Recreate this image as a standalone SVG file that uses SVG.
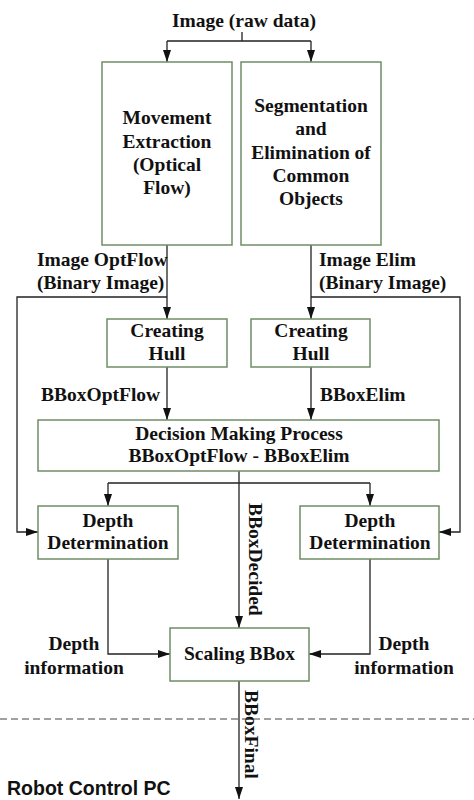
<svg xmlns="http://www.w3.org/2000/svg" width="474" height="800" viewBox="0 0 474 800">
<style>
.box{fill:#fff;stroke:#6f8d66;stroke-width:1.5}
.t{font-family:"Liberation Serif","Times New Roman",serif;font-weight:bold;font-size:19.5px;fill:#111}
.c{text-anchor:middle}
.ln{fill:none;stroke:#222;stroke-width:1.3}
.s{font-family:"Liberation Sans",Arial,sans-serif;font-weight:bold;font-size:19.5px;fill:#111}
</style>
<defs>
<marker id="ah" viewBox="0 0 12 8" refX="12" refY="4" markerWidth="12" markerHeight="8" markerUnits="userSpaceOnUse" orient="auto">
<path d="M0,0 L12,4 L0,8 z" fill="#111"/>
</marker>
</defs>
<rect width="474" height="800" fill="#fff"/>
<g id="connectors">
<path class="ln" d="M242,32 V41 M167,41 H311"/>
<path class="ln" d="M167,41 V62" marker-end="url(#ah)"/>
<path class="ln" d="M311,41 V62" marker-end="url(#ah)"/>
<path class="ln" d="M167,245 V319" marker-end="url(#ah)"/>
<path class="ln" d="M311,245 V319" marker-end="url(#ah)"/>
<path class="ln" d="M167,297 H17 V532 H38" marker-end="url(#ah)"/>
<path class="ln" d="M311,297 H460 V532 H439" marker-end="url(#ah)"/>
<path class="ln" d="M167,367 V420" marker-end="url(#ah)"/>
<path class="ln" d="M311,367 V420" marker-end="url(#ah)"/>
<path class="ln" d="M239,471 V628" marker-end="url(#ah)"/>
<path class="ln" d="M108,483 H370"/>
<path class="ln" d="M108,483 V506" marker-end="url(#ah)"/>
<path class="ln" d="M370,483 V506" marker-end="url(#ah)"/>
<path class="ln" d="M108,559 V654 H170" marker-end="url(#ah)"/>
<path class="ln" d="M370,559 V654 H309" marker-end="url(#ah)"/>
<path class="ln" d="M239,681 V799" marker-end="url(#ah)"/>
<text class="t" x="37" y="266">Image OptFlow</text>
<text class="t" x="37" y="289">(Binary Image)</text>
<text class="t" x="319" y="266">Image Elim</text>
<text class="t" x="319" y="289">(Binary Image)</text>
<text class="t" x="41" y="401">BBoxOptFlow</text>
<text class="t" x="320" y="401">BBoxElim</text>
<text class="t" transform="translate(249,503) rotate(90)">BBoxDecided</text>
<text class="t c" x="74" y="650">Depth</text>
<text class="t c" x="74" y="674">information</text>
<text class="t c" x="404" y="650">Depth</text>
<text class="t c" x="404" y="674">information</text>
<text class="t" transform="translate(245,690) rotate(90)">BBoxFinal</text>
</g>
<g id="title"><text class="t c" x="244" y="27">Image (raw data)</text></g>
<g id="movement">
<rect class="box" x="102" y="62" width="130" height="183"/>
<text class="t c" x="167" y="124">Movement</text>
<text class="t c" x="167" y="148">Extraction</text>
<text class="t c" x="167" y="171">(Optical</text>
<text class="t c" x="167" y="194">Flow)</text>
</g>
<g id="segmentation">
<rect class="box" x="241" y="62" width="140" height="183"/>
<text class="t c" x="311" y="112">Segmentation</text>
<text class="t c" x="311" y="135">and</text>
<text class="t c" x="311" y="159">Elimination of</text>
<text class="t c" x="311" y="182">Common</text>
<text class="t c" x="311" y="205">Objects</text>
</g>
<g id="hull1">
<rect class="box" x="107" y="319" width="120" height="48"/>
<text class="t c" x="167" y="337">Creating</text>
<text class="t c" x="167" y="360">Hull</text>
</g>
<g id="hull2">
<rect class="box" x="251" y="319" width="119" height="48"/>
<text class="t c" x="311" y="337">Creating</text>
<text class="t c" x="311" y="360">Hull</text>
</g>
<g id="decision">
<rect class="box" x="38" y="420" width="401" height="51"/>
<text class="t c" x="239" y="440">Decision Making Process</text>
<text class="t c" x="239" y="462">BBoxOptFlow - BBoxElim</text>
</g>
<g id="depth1">
<rect class="box" x="38" y="506" width="140" height="53"/>
<text class="t c" x="108" y="527">Depth</text>
<text class="t c" x="108" y="549">Determination</text>
</g>
<g id="depth2">
<rect class="box" x="300" y="506" width="139" height="53"/>
<text class="t c" x="370" y="527">Depth</text>
<text class="t c" x="370" y="549">Determination</text>
</g>
<g id="scaling">
<rect class="box" x="170" y="628" width="139" height="53"/>
<text class="t c" x="239.5" y="660">Scaling BBox</text>
</g>
<g id="boundary">
<path d="M0,719 H474" stroke="#444" stroke-width="1.2" stroke-dasharray="7,4" fill="none"/>
<text class="s" x="7" y="795">Robot Control PC</text>
</g>
</svg>
